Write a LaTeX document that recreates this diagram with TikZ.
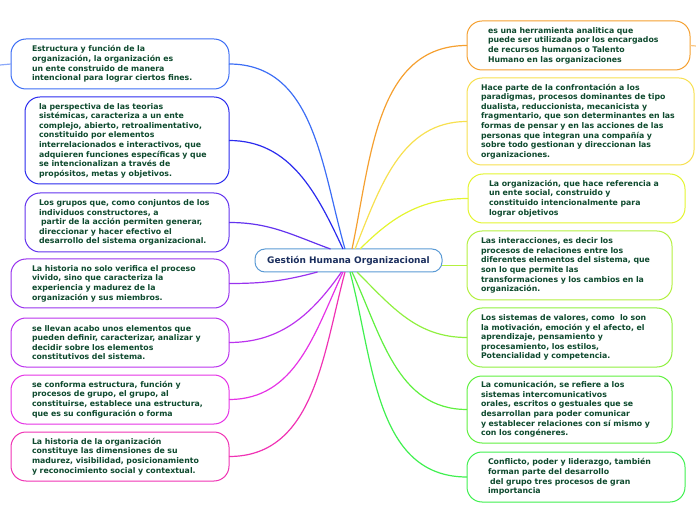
\documentclass[tikz,border=0pt]{standalone}
\usepackage{fontspec}
\setmainfont{DejaVu Sans}
\definecolor{txt}{HTML}{0E4A2E}
\definecolor{navy}{HTML}{1B2F5E}
\definecolor{maincol}{HTML}{5B9BD5}
\definecolor{l1col}{HTML}{3D6EF5}
\definecolor{l2col}{HTML}{2B2BEE}
\definecolor{l3col}{HTML}{6333EE}
\definecolor{l4col}{HTML}{9933EE}
\definecolor{l5col}{HTML}{BB33EE}
\definecolor{l6col}{HTML}{E633E6}
\definecolor{l7col}{HTML}{F033B4}
\definecolor{r1col}{HTML}{F5A030}
\definecolor{r2col}{HTML}{F7E050}
\definecolor{r3col}{HTML}{E4F530}
\definecolor{r4col}{HTML}{B4F040}
\definecolor{r5col}{HTML}{90F040}
\definecolor{r6col}{HTML}{60F040}
\definecolor{r7col}{HTML}{40F050}
\tikzset{
	box/.style={draw, rounded corners=15pt, line width=1pt, fill=white, align=left,
		anchor=north west, outer sep=0pt, inner ysep=0pt, text=txt,
		font=\bfseries\fontsize{7.8}{9.6}\selectfont},
	link/.style={line width=1.2pt},
}
\begin{document}
\begin{tikzpicture}[x=1pt,y=1pt]
				\useasboundingbox (0,0) rectangle (696,520);
				% central topic
				\node[draw=maincol, line width=1pt, rounded corners=10pt, fill=white, outer sep=0pt,
					minimum width=187pt, minimum height=23pt, text=navy,
					font=\bfseries\fontsize{9}{10}\selectfont] (main) at (348.5,259.5) {Gestión Humana Organizacional};
				% left boxes
				\node[box, draw=l1col, minimum width=218pt, minimum height=50pt, text width=176pt, inner xsep=21pt] (l1) at (11,481)
					{Estructura y función de la\\ organización, la organización es\\ un ente construido de manera\\ intencional para lograr ciertos fines.};
				\node[box, draw=l2col, minimum width=204pt, minimum height=87pt, text width=176pt, inner xsep=14pt] (l2) at (25,423)
					{la perspectiva de las teorias\\ sistémicas, caracteriza a un ente\\ complejo, abierto, retroalimentativo,\\ constituido por elementos\\ interrelacionados e interactivos, que\\ adquieren funciones específicas y que\\ se intencionalizan a través de\\ propósitos, metas y objetivos.};
				\node[box, draw=l3col, minimum width=204pt, minimum height=59pt, text width=176pt, inner xsep=14pt] (l3) at (25,327)
					{Los grupos que, como conjuntos de los\\ individuos constructores, a\\ \hspace{2pt}partir de la acción permiten generar,\\ direccionar y hacer efectivo el\\ desarrollo del sistema organizacional.};
				\node[box, draw=l4col, minimum width=218pt, minimum height=49pt, text width=176pt, inner xsep=21pt] (l4) at (11,261)
					{La historia no solo verifica el proceso\\ vivido, sino que caracteriza la\\ experiencia y madurez de la\\ organización y sus miembros.};
				\node[box, draw=l5col, minimum width=218pt, minimum height=49pt, text width=176pt, inner xsep=21pt] (l5) at (11,202)
					{se llevan acabo unos elementos que\\ pueden definir, caracterizar, analizar y\\ decidir sobre los elementos\\ constitutivos del sistema.};
				\node[box, draw=l6col, minimum width=218pt, minimum height=49pt, text width=176pt, inner xsep=21pt] (l6) at (11,145)
					{se conforma estructura, función y\\ procesos de grupo, el grupo, al\\ constituirse, establece una estructura,\\ que es su configuración o forma};
				\node[box, draw=l7col, minimum width=218pt, minimum height=49pt, text width=176pt, inner xsep=21pt] (l7) at (11,88)
					{La historia de la organización\\ constituye las dimensiones de su\\ madurez, visibilidad, posicionamiento\\ y reconocimiento social y contextual.};
				% right boxes
				\node[box, draw=r1col, minimum width=223pt, minimum height=49pt, text width=181pt, inner xsep=21pt] (r1) at (467,499)
					{es una herramienta analitica que\\ puede ser utilizada por los encargados\\ de recursos humanos o Talento\\ Humano en las organizaciones};
				\node[box, draw=r2col, minimum width=227pt, minimum height=87pt, text width=199pt, inner xsep=14pt] (r2) at (467,442)
					{Hace parte de la confrontación a los\\ paradigmas, procesos dominantes de tipo\\ dualista, reduccionista, mecanicista y\\ fragmentario, que son determinantes en las\\ formas de pensar y en las acciones de las\\ personas que integran una compañía y\\ sobre todo gestionan y direccionan las\\ organizaciones.};
				\node[box, draw=r3col, minimum width=217pt, minimum height=49pt, text width=175pt, inner xsep=21pt] (r3) at (468,346)
					{La organización, que hace referencia a\\ un ente social, construido y\\ constituido intencionalmente para\\ lograr objetivos};
				\node[box, draw=r4col, minimum width=205pt, minimum height=69pt, text width=177pt, inner xsep=14pt] (r4) at (467,289)
					{Las interacciones, es decir los\\ procesos de relaciones entre los\\ diferentes elementos del sistema, que\\ son lo que permite las\\ transformaciones y los cambios en la\\ organización.};
				\node[box, draw=r5col, minimum width=205pt, minimum height=59pt, text width=177pt, inner xsep=14pt] (r5) at (467,212)
					{Los sistemas de valores, como\ \ lo son\\ la motivación, emoción y el afecto, el\\ aprendizaje, pensamiento y\\ procesamiento, los estilos,\\ Potencialidad y competencia.};
				\node[box, draw=r6col, minimum width=205pt, minimum height=67pt, text width=177pt, inner xsep=14pt] (r6) at (467,144)
					{La comunicación, se refiere a los\\ sistemas intercomunicativos\\ orales, escritos o gestuales que se\\ desarrollan para poder comunicar\\ y establecer relaciones con sí mismo y\\ con los congéneres.};
				\node[box, draw=r7col, minimum width=218pt, minimum height=50pt, text width=176pt, inner xsep=21pt] (r7) at (467,68)
					{Conflicto, poder y liderazgo, también\\ forman parte del desarrollo\\ \hspace{2pt}del grupo tres procesos de gran\\ importancia};
				% links
				\foreach \b/\dx/\a in {l1/-3.5/106, l2/-5.5/115, l3/-18/160}
					\draw[link, draw=\b col] (\b.east) to[out=0, in=\a] ([xshift=\dx pt]main.north);
				\foreach \b/\dx/\a in {l4/-31/195, l5/-7/235, l6/-5.5/245, l7/-3.5/255}
					\draw[link, draw=\b col] (\b.east) to[out=0, in=\a] ([xshift=\dx pt]main.south);
				\foreach \b/\dx/\a in {r1/3.5/78, r2/6.5/68, r3/11.5/45}
					\draw[link, draw=\b col] (\b.west) to[out=180, in=\a] ([xshift=\dx pt]main.north);
				\foreach \b/\dx/\a in {r5/8.5/315, r6/3.5/295, r7/1.5/285}
					\draw[link, draw=\b col] (\b.west) to[out=180, in=\a] ([xshift=\dx pt]main.south);
				\draw[link, draw=r4col] (r4.west) -- (r4.west -| main.east);
				% stubs
				\coordinate (l1s) at (0,455);
				\coordinate (r1s) at (696,474);
				\draw[link, draw=l1col!60] (l1.west) -- (l1s);
				\draw[link, draw=r1col!60] (r1.east) -- (r1s);
			\end{tikzpicture}
\end{document}
